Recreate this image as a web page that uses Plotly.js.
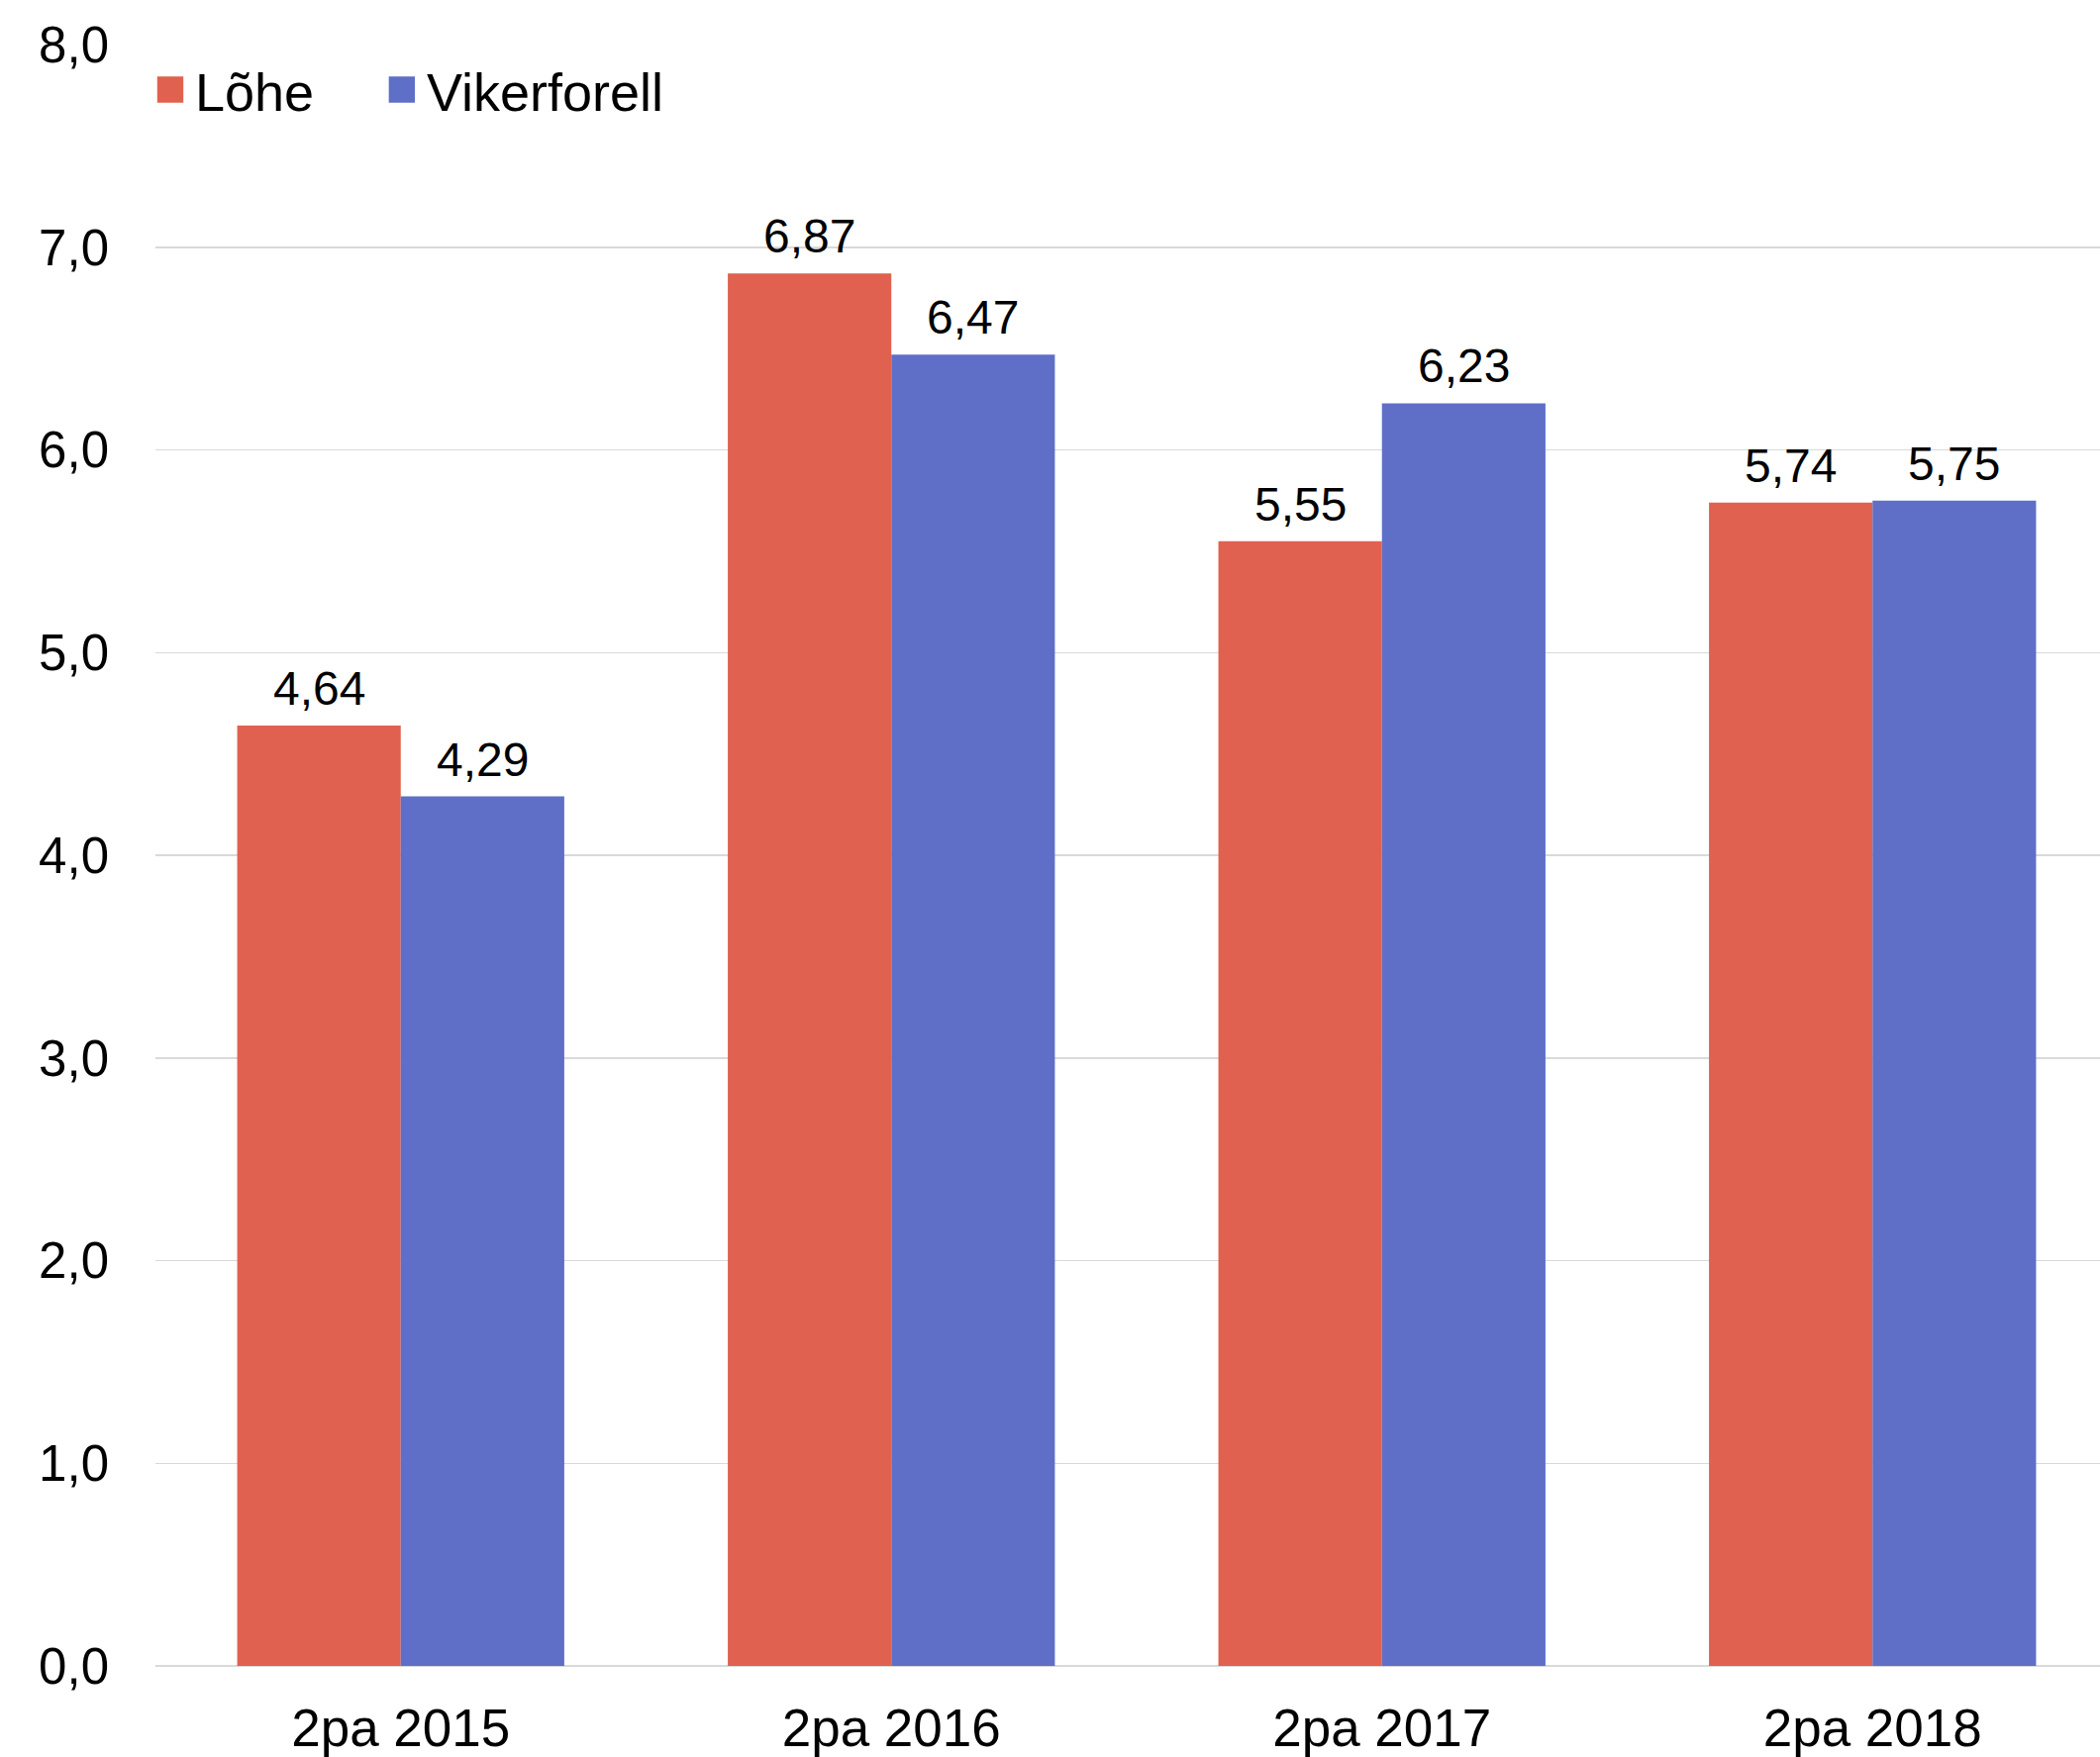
<!DOCTYPE html>
<html>
<head>
<meta charset="utf-8">
<script src="https://cdn.plot.ly/plotly-3.0.1.min.js"></script>
<style>
html, body { margin: 0; padding: 0; overflow: hidden; background: #fff; }
#chart { width: 2139px; height: 1775px; }
</style>
</head>
<body>
<div id="chart"></div>
<script>
const categories = ['2pa 2015', '2pa 2016', '2pa 2017', '2pa 2018'];
const seriesNames = ['Lõhe', 'Vikerforell'];
const lohe = [4.64, 6.87, 5.55, 5.74];
const vikerforell = [4.29, 6.47, 6.23, 5.75];
const yTickValues = [0, 1, 2, 3, 4, 5, 6, 7, 8];

const colors = ['#E0614F', '#5F6FC7'];
const FONT = 'Liberation Sans, Arial, sans-serif';

const W = 2139, H = 1775;
const margin = { l: 157, r: 0, t: 45, b: 92 };
const plotW = W - margin.l - margin.r;
const bargap = 1 / 3;
const barW = plotW / categories.length * (1 - bargap) / 2;

const fmt = v => v.toFixed(2).replace('.', ',');

const legendIds = ['legend', 'legend2'];
const traces = [lohe, vikerforell].map((vals, i) => ({
  type: 'bar',
  name: seriesNames[i],
  x: categories,
  y: vals,
  legend: legendIds[i],
  marker: { color: colors[i], line: { width: 0 } },
  hoverinfo: 'skip'
}));

const annotations = [];
[lohe, vikerforell].forEach((vals, i) => {
  vals.forEach((v, j) => {
    annotations.push({
      x: categories[j], y: v, xref: 'x', yref: 'y',
      text: fmt(v), showarrow: false,
      xanchor: 'center', yanchor: 'bottom',
      xshift: (i === 0 ? -1 : 1) * barW / 2,
      yshift: 9,
      font: { family: FONT, size: 48, color: '#000' }
    });
  });
});

const legendBase = {
  orientation: 'h',
  xanchor: 'left', xref: 'paper',
  y: 0.972, yanchor: 'middle',
  font: { family: FONT, size: 54, color: '#000' },
  bgcolor: 'rgba(0,0,0,0)',
  itemclick: false, itemdoubleclick: false
};

const layout = {
  width: W, height: H,
  margin: margin,
  paper_bgcolor: '#fff', plot_bgcolor: '#fff',
  separators: ', ',
  barmode: 'group',
  bargap: bargap,
  bargroupgap: 0,
  showlegend: true,
  legend: Object.assign({}, legendBase, { x: 0 }),
  legend2: Object.assign({}, legendBase, { x: 0.118 }),
  xaxis: {
    type: 'category',
    showgrid: false, showline: false, zeroline: false,
    ticks: '',
    ticklabelstandoff: 27,
    tickfont: { family: FONT, size: 53, color: '#000' }
  },
  yaxis: {
    range: [0, 8],
    tickvals: yTickValues,
    tickformat: '.1f',
    showgrid: true, gridcolor: '#D9D9D9', gridwidth: 1.5,
    zeroline: true, zerolinecolor: '#D9D9D9', zerolinewidth: 1.5,
    showline: false, ticks: '',
    ticklabelstandoff: 46,
    tickfont: { family: FONT, size: 51, color: '#000' }
  },
  annotations: annotations
};

Plotly.newPlot('chart', traces, layout, { staticPlot: true, displayModeBar: false }).then(gd => {
  gd.querySelectorAll('.legendpoints path').forEach(p => {
    const t = p.getAttribute('transform') || '';
    p.setAttribute('transform', 'translate(-5,0) ' + t + ' scale(2.2)');
  });
});
</script>
</body>
</html>
